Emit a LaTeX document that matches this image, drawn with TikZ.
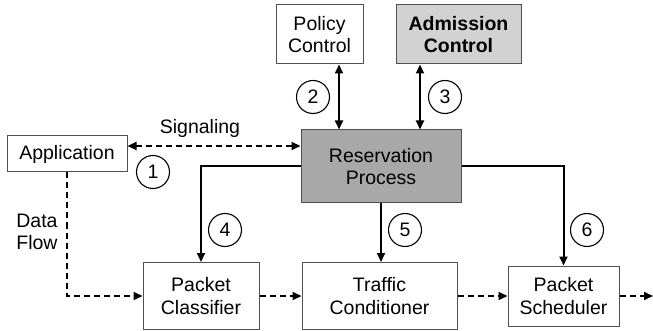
\documentclass[tikz,border=0pt]{standalone}
\usepackage{fontspec}
\setmainfont{Liberation Sans}
\usetikzlibrary{arrows.meta,calc}
\definecolor{edge}{HTML}{505050}
\definecolor{resfill}{HTML}{A8A8A8}
\definecolor{admfill}{HTML}{D2D2D2}
\tikzset{
  blk/.style={draw=edge, line width=1pt, align=center, inner sep=0pt,
              font=\fontsize{19.5}{22.5}\selectfont},
  num/.style={draw=black, circle, line width=1.1pt, minimum size=33pt, inner sep=0pt,
              font=\fontsize{19.5}{22.5}\selectfont},
  lbl/.style={font=\fontsize{19.5}{22.5}\selectfont, inner sep=0pt},
  tip/.style={-{Triangle[length=9pt,width=8pt]}},
  ctrl/.style={line width=2pt, black},
  flow/.style={line width=2pt, black, dash pattern=on 6pt off 4pt},
}
\begin{document}
\begin{tikzpicture}[x=1pt,y=-1pt]
\useasboundingbox (0,0) rectangle (653,331);

% blocks
\node[blk, minimum width=120pt, minimum height=36pt] (app) at (67,154) {Application};
\node[blk, minimum width=87pt, minimum height=59pt] (policy) at (319.5,34.5) {Policy\\Control};
\node[blk, fill=admfill, minimum width=125pt, minimum height=59pt,
      font=\fontsize{19.5}{22.5}\selectfont\bfseries] (adm) at (458.5,34.5) {Admission\\Control};
\node[blk, fill=resfill, minimum width=160pt, minimum height=73pt] (res) at (381,166.5) {Reservation\\Process};
\node[blk, minimum width=116pt, minimum height=67pt] (cls) at (201,296) {Packet\\Classifier};
\node[blk, minimum width=155pt, minimum height=67pt] (cond) at (379.5,296) {Traffic\\Conditioner};
\node[blk, minimum width=111pt, minimum height=60pt] (sched) at (563.5,296) {Packet\\Scheduler};

% helper coordinates
\coordinate (c2) at (339,0);
\coordinate (c3) at (420,0);
\coordinate (sy) at (0,146);
\coordinate (out) at (653,296);

% control paths
\draw[ctrl, {Triangle[length=9pt,width=8pt]}-{Triangle[length=9pt,width=8pt]}]
  (c2 |- policy.south) -- (c2 |- res.north);
\draw[ctrl, {Triangle[length=9pt,width=8pt]}-{Triangle[length=9pt,width=8pt]}]
  (c3 |- adm.south) -- (c3 |- res.north);
\draw[ctrl, tip] (res.west) -| (cls.north);
\draw[ctrl, tip] (res.south) -- (res.south |- cond.north);
\draw[ctrl, tip] (res.east) -| (sched.north);

% signaling and data flow
\draw[flow, {Triangle[length=9pt,width=8pt]}-{Triangle[length=9pt,width=8pt]}]
  (app.east |- sy) -- (res.west |- sy);
\draw[flow, tip] (app.south) |- (cls.west);
\draw[flow, tip] (cls.east) -- (cond.west);
\draw[flow, tip] (cond.east) -- (sched.west);
\draw[flow, tip] (sched.east) -- (out);

% labels
\node[lbl] (sig) at (200,128) {Signaling};
\node[lbl, align=left] (df) at (37,232) {Data\\Flow};

% step numbers
\node[num] (n1) at (153,172) {1};
\node[num] (n2) at (313,97) {2};
\node[num] (n3) at (445,97) {3};
\node[num] (n4) at (225,230) {4};
\node[num] (n5) at (405,230) {5};
\node[num] (n6) at (587,230) {6};
\end{tikzpicture}
\end{document}
